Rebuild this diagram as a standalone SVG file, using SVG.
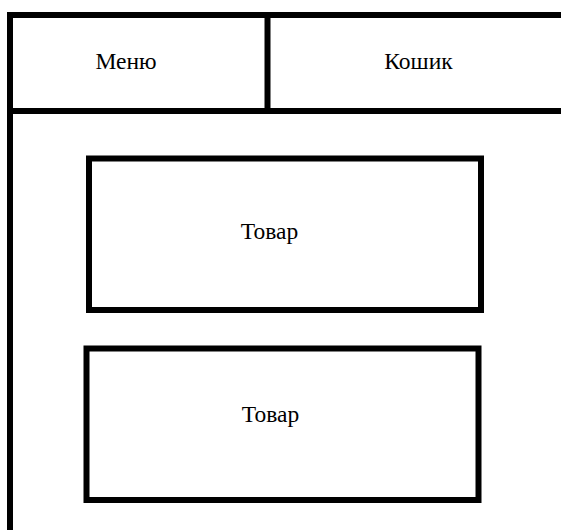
<svg xmlns="http://www.w3.org/2000/svg" width="561" height="530" viewBox="0 0 561 530">
  <style>
    .frame { fill: none; stroke: #000; stroke-width: 6; }
    .box { fill: #fff; stroke: #000; stroke-width: 6; }
    .label { font-family: "Liberation Serif", "DejaVu Serif", "Times New Roman", serif; font-size: 23.5px; fill: #000; text-anchor: middle; }
  </style>
  <rect width="561" height="530" fill="#fff"/>

  <!-- page frame: left edge, top edge, header divider and header bottom -->
  <g id="frame">
    <line class="frame" x1="10" y1="12" x2="10" y2="530"/>
    <line class="frame" x1="7" y1="15" x2="561" y2="15"/>
    <line class="frame" x1="7" y1="111" x2="561" y2="111"/>
    <line class="frame" x1="267.5" y1="15" x2="267.5" y2="111"/>
  </g>

  <g id="menu">
    <text class="label" x="126" y="68.5">Меню</text>
  </g>

  <g id="cart">
    <text class="label" x="418.5" y="69">Кошик</text>
  </g>

  <g id="product-1">
    <rect class="box" x="89" y="158.5" width="392" height="151.5"/>
    <text class="label" x="269.5" y="239">Товар</text>
  </g>

  <g id="product-2">
    <rect class="box" x="86.5" y="348.5" width="392" height="151.5"/>
    <text class="label" x="270.5" y="421.5">Товар</text>
  </g>

  <g id="connectors"></g>
</svg>
